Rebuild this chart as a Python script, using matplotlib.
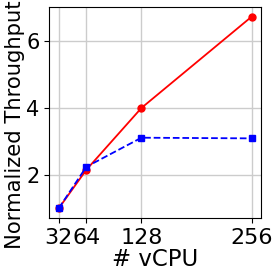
import matplotlib
matplotlib.use("Agg")
import matplotlib.pyplot as plt

vcpus = [32, 64, 128, 256]
red_tput = [1.0, 2.15, 4.0, 6.73]
blue_tput = [1.0, 2.24, 3.11, 3.09]

fig, ax = plt.subplots(figsize=(2.79, 2.79), dpi=100)
ax.plot(vcpus, red_tput, color='red', marker='o', markersize=5, linewidth=1.3)
ax.plot(vcpus, blue_tput, color='blue', linestyle='--', marker='s', markersize=5, linewidth=1.3)

ax.set_xticks(vcpus)
ax.set_xticklabels([str(v) for v in vcpus])
ax.set_yticks([2, 4, 6])
ax.tick_params(axis='x', labelsize=16)
ax.tick_params(axis='y', labelsize=15)
ax.set_xlabel('# vCPU', fontsize=16.5, labelpad=0)
ax.set_ylabel('Normalized Throughput', fontsize=15.2)
ax.yaxis.set_label_coords(-0.115, 0.44)
ax.grid(True, color='#cccccc', linewidth=1)

fig.subplots_adjust(left=0.176, right=0.937, top=0.975, bottom=0.219)
fig.savefig('out.png', dpi=100)
